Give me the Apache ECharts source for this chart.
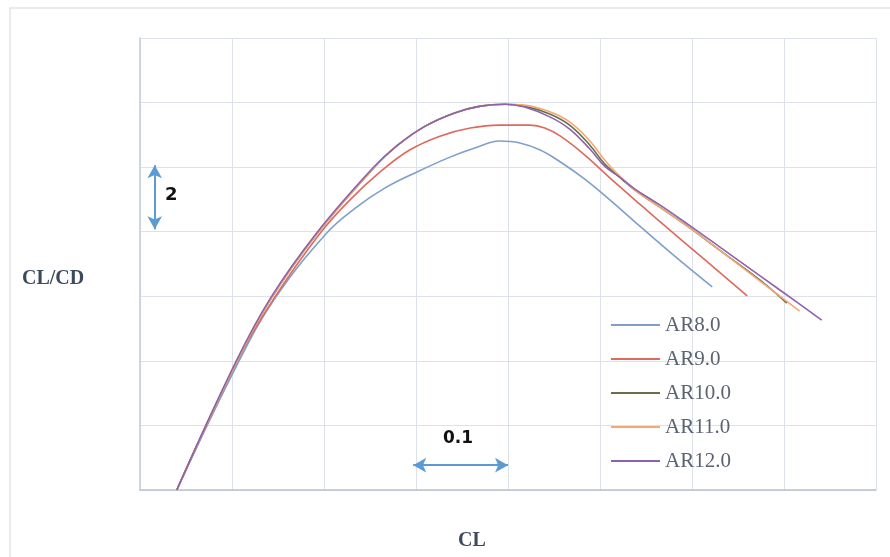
<!DOCTYPE html>
<html>
<head>
<meta charset="utf-8">
<script src="https://cdn.jsdelivr.net/npm/echarts@6/dist/echarts.min.js"></script>
<style>
  html, body { margin: 0; padding: 0; background: #fff; }
  #chart { width: 890px; height: 557px; }
</style>
</head>
<body>
<div id="chart"></div>
<script>
// CL values and CL/CD values per aspect ratio
var clAR8 = [0.040, 0.107, 0.147, 0.203, 0.234, 0.266, 0.301, 0.337, 0.364, 0.391, 0.413, 0.435, 0.457, 0.482, 0.511, 0.543, 0.576, 0.622];
var ldAR8 = [0, 3.96, 5.95, 7.96, 8.73, 9.35, 9.85, 10.31, 10.59, 10.81, 10.75, 10.53, 10.16, 9.66, 8.98, 8.18, 7.37, 6.29];

var clAR9 = [0.040, 0.105, 0.146, 0.196, 0.228, 0.261, 0.293, 0.326, 0.359, 0.391, 0.424, 0.440, 0.457, 0.482, 0.511, 0.543, 0.576, 0.609, 0.660];
var ldAR9 = [0, 3.96, 5.95, 7.96, 8.98, 9.85, 10.53, 10.96, 11.21, 11.30, 11.30, 11.21, 10.96, 10.41, 9.66, 8.86, 8.05, 7.25, 6.01];

var clAR10 = [0.040, 0.105, 0.143, 0.193, 0.253, 0.280, 0.310, 0.342, 0.370, 0.397, 0.418, 0.446, 0.467, 0.489, 0.505, 0.520, 0.538, 0.565, 0.598, 0.630, 0.674, 0.703];
var ldAR10 = [0, 3.96, 5.95, 7.96, 9.94, 10.68, 11.27, 11.68, 11.89, 11.95, 11.89, 11.64, 11.30, 10.68, 10.10, 9.72, 9.29, 8.76, 8.11, 7.43, 6.50, 5.79];

var clAR11 = [0.040, 0.105, 0.143, 0.193, 0.253, 0.280, 0.310, 0.342, 0.370, 0.397, 0.418, 0.446, 0.467, 0.489, 0.505, 0.520, 0.538, 0.565, 0.598, 0.630, 0.674, 0.717];
var ldAR11 = [0, 3.96, 5.95, 7.96, 9.94, 10.68, 11.27, 11.68, 11.89, 11.95, 11.92, 11.71, 11.40, 10.81, 10.22, 9.76, 9.29, 8.76, 8.11, 7.43, 6.47, 5.54];

var clAR12 = [0.040, 0.104, 0.142, 0.192, 0.252, 0.280, 0.310, 0.342, 0.370, 0.397, 0.418, 0.446, 0.467, 0.489, 0.505, 0.520, 0.538, 0.565, 0.598, 0.630, 0.674, 0.717, 0.741];
var ldAR12 = [0, 3.96, 5.95, 7.96, 9.94, 10.68, 11.27, 11.68, 11.89, 11.95, 11.86, 11.55, 11.18, 10.56, 10.03, 9.72, 9.32, 8.83, 8.18, 7.53, 6.63, 5.76, 5.26];

var seriesNames = ['AR8.0', 'AR9.0', 'AR10.0', 'AR11.0', 'AR12.0'];
var seriesColors = ['#7f9fcb', '#dd6a5c', '#66704a', '#f3a874', '#8d62ad'];

// annotation arrows, in data units (one grid cell each)
var arrowX = [[0.297, 0.77], [0.400, 0.77]];
var arrowY = [[0.016, 8.08], [0.016, 10.06]];

function pairs(xs, ys) {
  var out = [];
  for (var i = 0; i < xs.length; i++) out.push([xs[i], ys[i]]);
  return out;
}

var allX = [clAR8, clAR9, clAR10, clAR11, clAR12];
var allY = [ldAR8, ldAR9, ldAR10, ldAR11, ldAR12];

var series = [];
for (var k = 0; k < seriesNames.length; k++) {
  series.push({
    name: seriesNames[k],
    type: 'line',
    data: pairs(allX[k], allY[k]),
    smooth: 0.4,
    symbol: 'none',
    showSymbol: false,
    animation: false,
    lineStyle: { color: seriesColors[k], width: 1.6 },
    itemStyle: { color: seriesColors[k] }
  });
}

// arrows for the scale hints
series.push({
  name: 'scale',
  type: 'line',
  data: [],
  animation: false,
  markLine: {
    silent: true,
    animation: false,
    symbol: ['arrow', 'arrow'],
    symbolSize: [11, 13],
    label: { show: false },
    lineStyle: { color: '#5b9bd5', width: 2, type: 'solid' },
    data: [
      [{ coord: arrowX[0] }, { coord: arrowX[1] }],
      [{ coord: arrowY[0] }, { coord: arrowY[1] }]
    ]
  }
});

var chartDom = document.getElementById('chart');
var myChart = echarts.init(chartDom, null, { renderer: 'canvas' });

var option = {
  backgroundColor: '#fff',
  animation: false,
  grid: {
    left: 140,
    right: 14,
    top: 38,
    bottom: 67
  },
  xAxis: {
    type: 'value',
    min: 0,
    max: 0.8,
    interval: 0.1,
    axisLabel: { show: false },
    axisTick: { show: false },
    axisLine: { show: true, lineStyle: { color: '#b9c2cf', width: 1.5 } },
    splitLine: { show: true, lineStyle: { color: '#dde2ea', width: 1 } }
  },
  yAxis: {
    type: 'value',
    min: 0,
    max: 14,
    interval: 2,
    axisLabel: { show: false },
    axisTick: { show: false },
    axisLine: { show: true, lineStyle: { color: '#c3cddb', width: 1.5 } },
    splitLine: { show: true, lineStyle: { color: '#dde2ea', width: 1 } }
  },
  legend: {
    data: seriesNames,
    orient: 'vertical',
    left: 606,
    top: 309,
    icon: 'rect',
    itemWidth: 49,
    itemHeight: 2,
    itemGap: 12,
    textStyle: {
      fontFamily: 'Liberation Serif',
      fontSize: 21,
      color: '#5b6272',
      lineHeight: 22
    }
  },
  graphic: [
    {
      type: 'rect',
      shape: { x: 10, y: 8, width: 900, height: 560 },
      style: { fill: 'none', stroke: '#e3e3e3', lineWidth: 1.5 },
      silent: true,
      z: -1
    },
    {
      type: 'text',
      left: 22,
      top: 269,
      style: { text: 'CL/CD', font: 'bold 20px "Liberation Serif"', fill: '#3d4a5e' }
    },
    {
      type: 'text',
      left: 458,
      top: 531,
      style: { text: 'CL', font: 'bold 20px "Liberation Serif"', fill: '#3d4a5e' }
    },
    {
      type: 'text',
      left: 165,
      top: 186,
      style: { text: '2', font: 'bold 18px "DejaVu Sans"', fill: '#111' }
    },
    {
      type: 'text',
      left: 443,
      top: 430,
      style: { text: '0.1', font: 'bold 17px "DejaVu Sans"', fill: '#111' }
    }
  ],
  series: series
};

option && myChart.setOption(option);
</script>
</body>
</html>
